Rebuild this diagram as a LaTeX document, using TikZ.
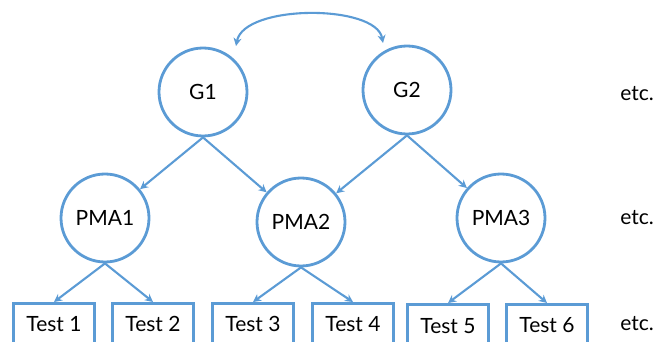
\documentclass[tikz,border=0pt]{standalone}
\usepackage{fontspec}
\setmainfont{Lato}
\usetikzlibrary{arrows.meta}
\definecolor{lblue}{HTML}{5B9BD5}
\tikzset{
  every node/.style={font=\fontsize{21}{24}\selectfont, text=black},
  lat/.style={circle, draw=lblue, line width=2.8pt, minimum size=88pt, inner sep=0pt},
  obs/.style={rectangle, draw=lblue, line width=2.8pt, minimum width=81pt, minimum height=60pt, inner sep=0pt},
  conn/.style={draw=lblue, line width=2.1pt, -{Stealth[length=8pt,width=8pt]}},
  etcl/.style={anchor=base}
}
\begin{document}
\begin{tikzpicture}[x=1pt,y=-1pt]
\useasboundingbox (0,0) rectangle (662,342);
\clip (0,0) rectangle (662,342);
\node[lat] (G1) at (203,92) {G1};
\node[lat] (G2) at (407,90) {G2};
\node[lat] (P1) at (105,218) {PMA1};
\node[lat] (P2) at (301,222) {PMA2};
\node[lat] (P3) at (501,218) {PMA3};
\node[obs, anchor=north] (T1) at (54,302) {};
\node[obs, anchor=north] (T2) at (153,302) {};
\node[obs, anchor=north] (T3) at (253,302) {};
\node[obs, anchor=north] (T4) at (353,302) {};
\node[obs, anchor=north] (T5) at (448,303) {};
\node[obs, anchor=north] (T6) at (547,303) {};
\node[anchor=base] at (54,331) {Test 1};
\node[anchor=base] at (153,331) {Test 2};
\node[anchor=base] at (253,331) {Test 3};
\node[anchor=base] at (353,331) {Test 4};
\node[anchor=base] at (448,333) {Test 5};
\node[anchor=base] at (547,332) {Test 6};
\node[etcl] (e1) at (637,101) {etc.};
\node[etcl] (e2) at (637,225) {etc.};
\node[etcl] (e3) at (637,330) {etc.};
\coordinate (a1) at (236,46);
\coordinate (a2) at (383,43);
\draw[draw=lblue, line width=2.1pt, {Stealth[length=8pt,width=8pt]}-{Stealth[length=8pt,width=8pt]}] (a1) .. controls (244,4) and (376,4) .. (a2);
\draw[conn] (G1.south) -- (P1);
\draw[conn] (G1.south) -- (P2);
\draw[conn] (G2.south) -- (P2);
\draw[conn] (G2.south) -- (P3);
\draw[conn] (P1.south) -- (T1.north);
\draw[conn] (P1.south) -- (T2.north);
\draw[conn] (P2.south) -- (T3.north);
\draw[conn] (P2.south) -- (T4.north);
\draw[conn] (P3.south) -- (T5.north);
\draw[conn] (P3.south) -- (T6.north);
\end{tikzpicture}
\end{document}
